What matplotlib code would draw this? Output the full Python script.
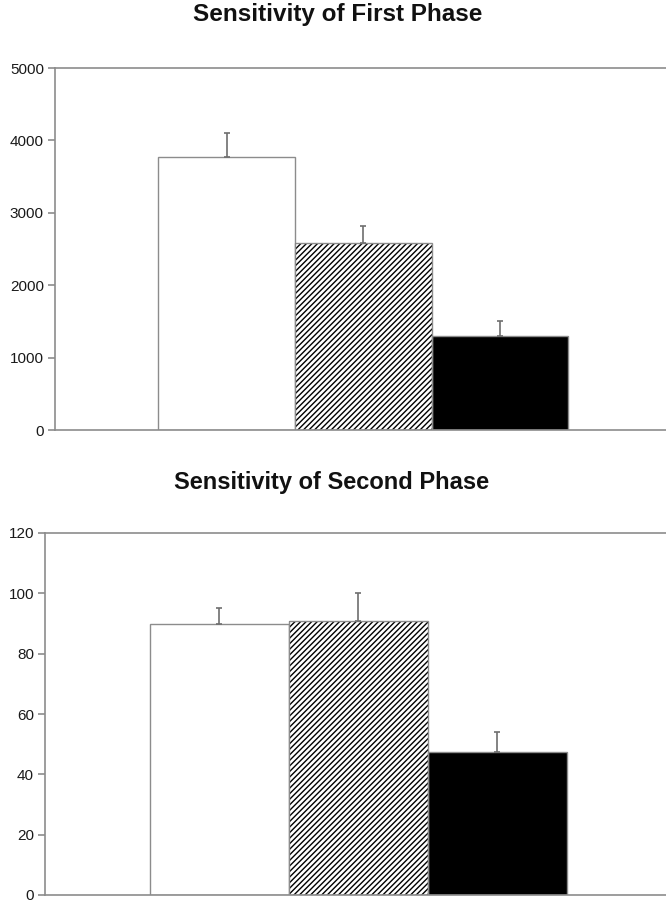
import matplotlib
matplotlib.use("Agg")
import matplotlib.pyplot as plt

plt.rcParams['font.family'] = ['Liberation Sans', 'DejaVu Sans']
plt.rcParams['hatch.linewidth'] = 1.0

groups = ["Group 1", "Group 2", "Group 3"]
first_values = [3770, 2580, 1300]
first_errors = [330, 240, 205]
second_values = [89.8, 90.8, 47.5]
second_errors = [5.2, 9.2, 6.5]
first_ticks = [0, 1000, 2000, 3000, 4000, 5000]
second_ticks = [0, 20, 40, 60, 80, 100, 120]
titles = ["Sensitivity of First Phase", "Sensitivity of Second Phase"]

facecolors = ["white", "white", "black"]
hatches = [None, "//////", None]
spine_col = "#8c8c8c"

fig = plt.figure(figsize=(6.66, 9.02), dpi=100)
ax1 = fig.add_axes([55/666, 1-430/902, 1-55/666, (430-68)/902])
ax2 = fig.add_axes([45/666, 1-895/902, 1-45/666, (895-533)/902])

def draw(ax, vals, errs, ticks, title, title_x, title_y, title_size):
    x = list(range(len(vals)))
    for i in x:
        if hatches[i]:
            ax.bar(i, vals[i], width=1.0, color=facecolors[i], edgecolor="black",
                   linewidth=0, hatch=hatches[i], zorder=2)
            ax.bar(i, vals[i], width=1.0, fill=False, edgecolor=spine_col,
                   linewidth=1.0, zorder=2.5)
        else:
            ax.bar(i, vals[i], width=1.0, color=facecolors[i], edgecolor=spine_col,
                   linewidth=1.0, zorder=2)
    ax.errorbar(x, vals, yerr=[[0]*len(vals), errs], fmt='none', ecolor="#6e6e6e",
                elinewidth=1.2, capsize=2.5, capthick=1.2, zorder=3)
    ax.set_xlim(-1.255, 3.213)
    ax.set_ylim(ticks[0], ticks[-1])
    ax.set_yticks(ticks)
    ax.set_yticklabels([str(t) for t in ticks], fontsize=11, color="#1a1a1a")
    ax.set_xticks([])
    ax.spines["right"].set_visible(False)
    for s in ["left", "bottom", "top"]:
        ax.spines[s].set_color(spine_col)
        ax.spines[s].set_linewidth(1.2)
    ax.tick_params(axis='y', direction='out', length=5, width=1.2, color=spine_col, pad=3)
    fig.text(title_x, title_y, title, ha='center', va='center',
             fontsize=title_size, fontweight='bold', color="#111111")

draw(ax1, first_values, first_errors, first_ticks, titles[0], 337.5/666, 1-15/902, 17.5)
draw(ax2, second_values, second_errors, second_ticks, titles[1], 331.5/666, 1-482/902, 17.0)

fig.savefig("out.png", dpi=100)
